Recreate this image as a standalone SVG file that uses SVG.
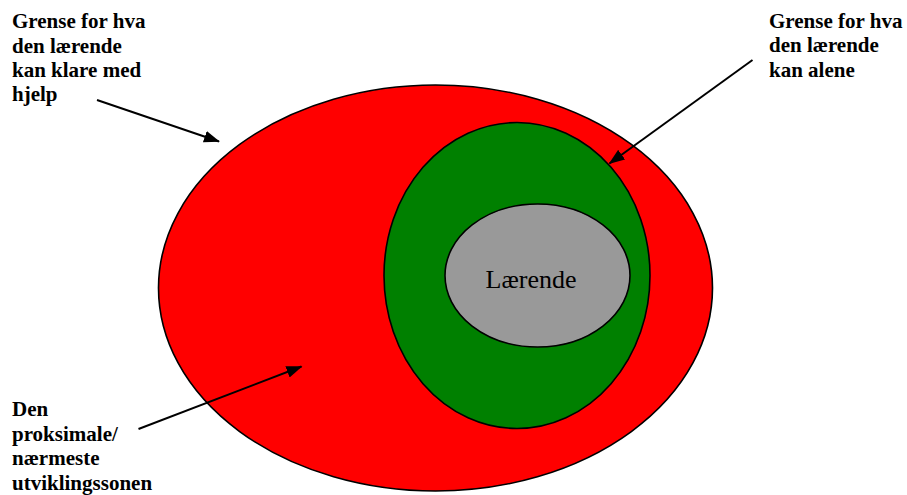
<svg xmlns="http://www.w3.org/2000/svg" width="907" height="495" viewBox="0 0 907 495">
<style>
.lbl{font-family:"Liberation Serif";font-weight:bold;font-size:21px;fill:#000}
.ell{stroke:#000;stroke-width:1.6}
.conn{stroke:#000;stroke-width:2;fill:none}
</style>
<defs>
<marker id="ah" markerUnits="userSpaceOnUse" markerWidth="16" markerHeight="12" refX="15" refY="6" orient="auto">
<path d="M0,0 L16,6 L0,12 Z" fill="#000"/>
</marker>
</defs>
<rect width="907" height="495" fill="#fff"/>
<g id="zone-help">
<ellipse class="ell" cx="435.5" cy="288" rx="277" ry="203" fill="#FF0000"/>
</g>
<g id="zone-alone">
<ellipse class="ell" cx="517" cy="275.5" rx="133" ry="153" fill="#008000"/>
</g>
<g id="learner">
<ellipse class="ell" cx="537.5" cy="275.5" rx="92.5" ry="71.5" fill="#999999"/>
<text x="531" y="287.5" text-anchor="middle" font-family="Liberation Serif" font-size="26" fill="#000">Lærende</text>
</g>
<g id="label-help">
<text class="lbl" x="12" y="28">Grense for hva</text>
<text class="lbl" x="12" y="52.5">den lærende</text>
<text class="lbl" x="12" y="77">kan klare med</text>
<text class="lbl" x="12" y="101">hjelp</text>
</g>
<g id="label-alone">
<text class="lbl" x="769" y="27.5">Grense for hva</text>
<text class="lbl" x="769" y="52">den lærende</text>
<text class="lbl" x="769" y="77">kan alene</text>
</g>
<g id="label-zpd">
<text class="lbl" x="12" y="415.5">Den</text>
<text class="lbl" x="12" y="440.5">proksimale/</text>
<text class="lbl" x="12" y="465">nærmeste</text>
<text class="lbl" x="12" y="489.5">utviklingssonen</text>
</g>
<g id="connectors">
<line class="conn" x1="97" y1="100" x2="219" y2="141.5" marker-end="url(#ah)"/>
<line class="conn" x1="752.5" y1="60" x2="609.5" y2="163.5" marker-end="url(#ah)"/>
<line class="conn" x1="138.5" y1="429" x2="301.5" y2="366.5" marker-end="url(#ah)"/>
</g>
</svg>
